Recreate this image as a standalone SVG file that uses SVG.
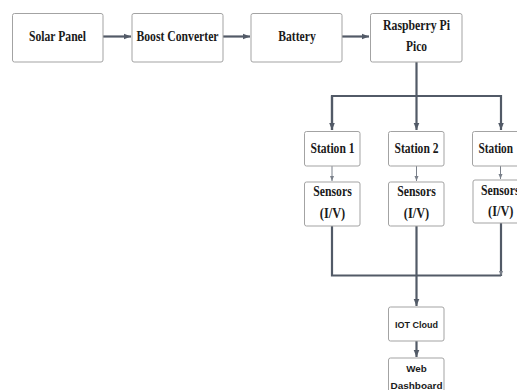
<svg xmlns="http://www.w3.org/2000/svg" width="517" height="390" viewBox="0 0 517 390">
<style>
.box{fill:#ffffff;stroke:#a3a3a3;stroke-width:1}
.ser{font-family:"Liberation Serif","Times New Roman",serif;font-weight:bold;font-size:14px;fill:#1a1a1a}
.sans{font-family:"Liberation Sans",Arial,sans-serif;font-weight:bold;font-size:9.8px;fill:#1a1a1a}
.ln{fill:none;stroke:#525a67;stroke-width:2.2}
.thin{fill:none;stroke:#7a808a;stroke-width:1}
</style>
<defs>
<marker id="ah" markerUnits="userSpaceOnUse" markerWidth="8" markerHeight="8" refX="7" refY="4" orient="auto">
<path d="M0,1.2 L7,4 L0,6.8 Z" fill="#525a67"/>
</marker>
<marker id="ahs" markerUnits="userSpaceOnUse" markerWidth="6" markerHeight="6" refX="5" refY="3" orient="auto">
<path d="M0,1 L5,3 L0,5 Z" fill="#7a808a"/>
</marker>
</defs>
<g id="connectors">
<line class="ln" x1="103" y1="36.5" x2="131" y2="36.5" marker-end="url(#ah)"/>
<line class="ln" x1="223" y1="36.5" x2="250" y2="36.5" marker-end="url(#ah)"/>
<line class="ln" x1="342" y1="36.5" x2="369" y2="36.5" marker-end="url(#ah)"/>
<line class="ln" x1="416.5" y1="62" x2="416.5" y2="96"/>
<polyline class="ln" points="332,130 332,96 501,96 501,130" marker-end="url(#ah)"/>
<line class="ln" x1="332" y1="96" x2="332" y2="130" marker-end="url(#ah)"/>
<line class="ln" x1="416.5" y1="96" x2="416.5" y2="130" marker-end="url(#ah)"/>
<line class="thin" x1="332" y1="166" x2="332" y2="181" marker-end="url(#ahs)"/>
<line class="thin" x1="416.5" y1="166" x2="416.5" y2="181" marker-end="url(#ahs)"/>
<line class="thin" x1="500.5" y1="166" x2="500.5" y2="179" marker-end="url(#ahs)"/>
<polyline class="ln" points="332,226 332,275.5 501,275.5"/>
<line class="ln" x1="501" y1="223" x2="501" y2="276" marker-end="url(#ahs)"/>
<line class="ln" x1="416.5" y1="226" x2="416.5" y2="306" marker-end="url(#ah)"/>
<line class="ln" x1="416.5" y1="341" x2="416.5" y2="357" marker-end="url(#ah)"/>
</g>
<g id="solar-panel">
<rect class="box" x="12.5" y="13.5" width="90.5" height="48.5" rx="2"/>
<text class="ser" x="57.5" y="40.5" text-anchor="middle" textLength="57" lengthAdjust="spacingAndGlyphs">Solar Panel</text>
</g>
<g id="boost-converter">
<rect class="box" x="132" y="13.5" width="91" height="48.5" rx="2"/>
<text class="ser" x="177.5" y="40.5" text-anchor="middle" textLength="82" lengthAdjust="spacingAndGlyphs">Boost Converter</text>
</g>
<g id="battery">
<rect class="box" x="251" y="13.5" width="91" height="48.5" rx="2"/>
<text class="ser" x="297" y="40.5" text-anchor="middle" textLength="37.5" lengthAdjust="spacingAndGlyphs">Battery</text>
</g>
<g id="raspberry-pi-pico">
<rect class="box" x="370.5" y="13.5" width="91.5" height="48.5" rx="2"/>
<text class="ser" x="416.5" y="30" text-anchor="middle" textLength="67" lengthAdjust="spacingAndGlyphs">Raspberry Pi</text>
<text class="ser" x="416.5" y="51" text-anchor="middle" textLength="21" lengthAdjust="spacingAndGlyphs">Pico</text>
</g>
<g id="station-1">
<rect class="box" x="304.5" y="131.5" width="55.5" height="34.5" rx="2"/>
<text class="ser" x="332.5" y="153" text-anchor="middle" textLength="44" lengthAdjust="spacingAndGlyphs">Station 1</text>
</g>
<g id="station-2">
<rect class="box" x="388.5" y="131.5" width="55.5" height="34.5" rx="2"/>
<text class="ser" x="416.5" y="153" text-anchor="middle" textLength="44" lengthAdjust="spacingAndGlyphs">Station 2</text>
</g>
<g id="station-3">
<rect class="box" x="472.5" y="131.5" width="55.5" height="34.5" rx="2"/>
<text class="ser" x="478.5" y="153" textLength="34.5" lengthAdjust="spacingAndGlyphs">Station</text>
</g>
<g id="sensors-1">
<rect class="box" x="304.5" y="182" width="55.5" height="44" rx="2"/>
<text class="ser" x="332.5" y="196" text-anchor="middle" textLength="38.5" lengthAdjust="spacingAndGlyphs">Sensors</text>
<text class="ser" x="332.5" y="218" text-anchor="middle" textLength="25.5" lengthAdjust="spacingAndGlyphs">(I/V)</text>
</g>
<g id="sensors-2">
<rect class="box" x="388.5" y="182" width="55.5" height="44" rx="2"/>
<text class="ser" x="416.5" y="196" text-anchor="middle" textLength="38.5" lengthAdjust="spacingAndGlyphs">Sensors</text>
<text class="ser" x="416.5" y="218" text-anchor="middle" textLength="25.5" lengthAdjust="spacingAndGlyphs">(I/V)</text>
</g>
<g id="sensors-3">
<rect class="box" x="473" y="180" width="55.5" height="43" rx="2"/>
<text class="ser" x="481" y="194.5" textLength="38.5" lengthAdjust="spacingAndGlyphs">Sensors</text>
<text class="ser" x="488" y="216" textLength="25.5" lengthAdjust="spacingAndGlyphs">(I/V)</text>
</g>
<g id="iot-cloud">
<rect class="box" x="388.5" y="307" width="55.5" height="34" rx="2"/>
<text class="sans" x="416.5" y="327.5" text-anchor="middle" textLength="43" lengthAdjust="spacingAndGlyphs">IOT Cloud</text>
</g>
<g id="web-dashboard">
<rect class="box" x="388.5" y="358" width="55.5" height="40" rx="2"/>
<text class="sans" x="416.5" y="371.5" text-anchor="middle">Web</text>
<text class="sans" x="416.5" y="389" text-anchor="middle" textLength="52" lengthAdjust="spacingAndGlyphs">Dashboard</text>
</g>
</svg>
